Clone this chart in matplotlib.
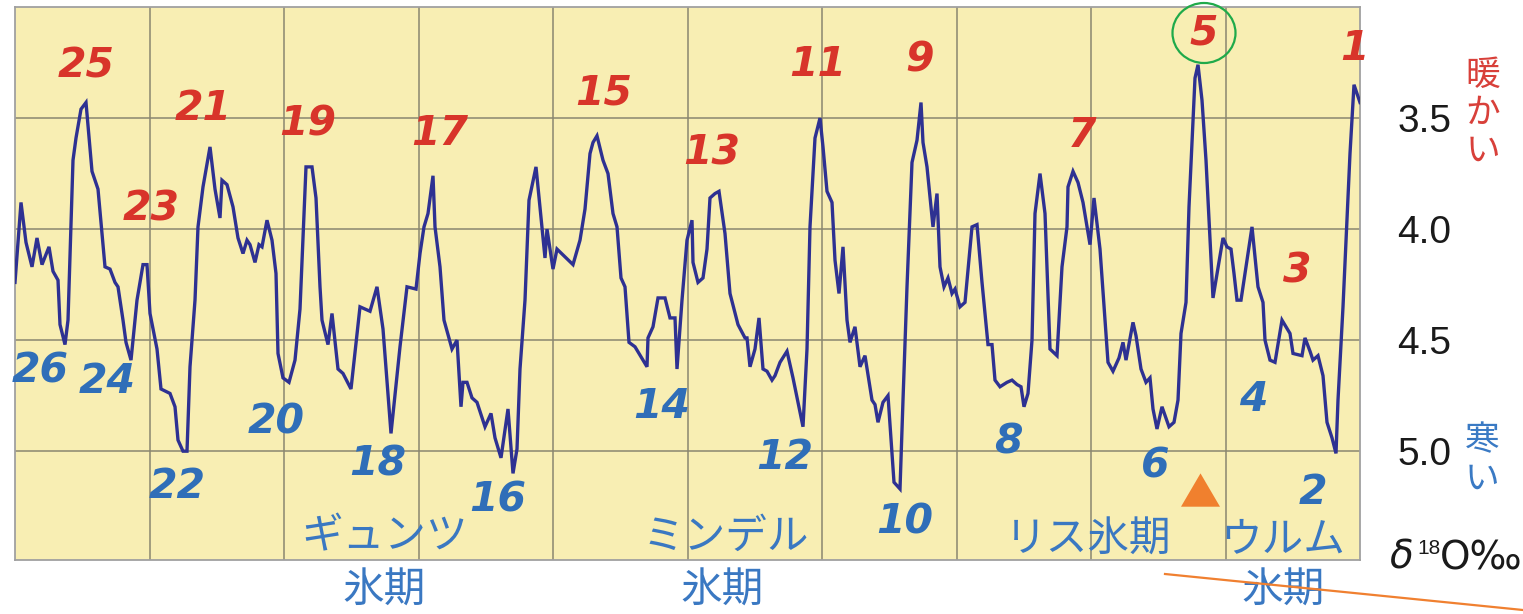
import matplotlib
matplotlib.use('Agg')
import matplotlib.pyplot as plt
from matplotlib.patches import Ellipse, Polygon
from matplotlib.lines import Line2D

# ---- data: position along the record (arbitrary units) and delta-18O (per mil)
position = [0, 6, 11, 17, 22, 27, 34, 38, 43, 45, 50, 53, 58, 61, 66, 71, 77, 83, 90, 95,
            100, 103, 108, 111, 116, 122, 128, 132, 135, 142, 146, 155, 160, 163, 168, 172, 175, 180, 183, 188,
            195, 200, 205, 207, 212, 218, 223, 228, 232, 235, 240, 244, 247, 252, 257, 261, 263, 268, 274, 280,
            285, 291, 297, 301, 305, 307, 313, 317, 323, 328, 336, 345, 355, 362, 368, 376, 385, 392, 401, 405,
            409, 413, 418, 420, 425, 429, 437, 442, 446, 448, 452, 457, 462, 470, 476, 480, 486, 493, 498, 502,
            505, 510, 514, 521, 525, 530, 532, 538, 542, 558, 565, 570, 575, 578, 582, 588, 593, 598, 602, 606,
            610, 614, 620, 632, 633, 638, 643, 650, 655, 660, 662, 667, 672, 677, 678, 683, 688, 692, 695, 700,
            704, 710, 715, 723, 730, 732, 735, 740, 744, 748, 752, 757, 760, 765, 772, 778, 788, 792, 795, 800,
            805, 808, 812, 817, 820, 824, 828, 832, 835, 840, 845, 850, 857, 860, 863, 868, 873, 879, 885, 888,
            892, 897, 902, 906, 908, 912, 918, 922, 925, 929, 933, 937, 940, 945, 950, 957, 962, 967, 973, 977,
            980, 985, 992, 997, 1002, 1006, 1009, 1013, 1017, 1020, 1025, 1030, 1035, 1042, 1047, 1052, 1053, 1058, 1063, 1068,
            1075, 1079, 1085, 1093, 1098, 1104, 1108, 1111, 1118, 1121, 1126, 1131, 1135, 1138, 1142, 1147, 1154, 1159, 1163, 1166,
            1171, 1174, 1180, 1183, 1187, 1191, 1193, 1198, 1208, 1212, 1216, 1219, 1222, 1226, 1237, 1243, 1248, 1250, 1255, 1260,
            1267, 1275, 1278, 1287, 1290, 1295, 1298, 1303, 1308, 1312, 1317, 1321, 1323, 1328, 1335, 1339, 1342, 1345]
d18o = [4.24, 3.88, 4.06, 4.17, 4.04, 4.16, 4.08, 4.19, 4.23, 4.43, 4.52, 4.41, 3.69, 3.59, 3.46, 3.43, 3.74, 3.82, 4.17, 4.18,
        4.24, 4.26, 4.41, 4.51, 4.59, 4.32, 4.16, 4.16, 4.38, 4.54, 4.72, 4.74, 4.80, 4.95, 5.00, 5.00, 4.62, 4.32, 3.99, 3.81,
        3.63, 3.82, 3.95, 3.78, 3.80, 3.90, 4.04, 4.11, 4.05, 4.07, 4.15, 4.07, 4.08, 3.96, 4.05, 4.20, 4.56, 4.67, 4.69, 4.59,
        4.36, 3.72, 3.72, 3.86, 4.26, 4.41, 4.52, 4.38, 4.63, 4.65, 4.72, 4.35, 4.37, 4.26, 4.45, 4.92, 4.53, 4.26, 4.27, 4.11,
        3.99, 3.93, 3.76, 3.99, 4.17, 4.41, 4.54, 4.50, 4.80, 4.69, 4.69, 4.76, 4.78, 4.89, 4.83, 4.94, 5.03, 4.81, 5.10, 4.99,
        4.63, 4.32, 3.87, 3.72, 3.90, 4.13, 4.00, 4.18, 4.09, 4.16, 4.05, 3.91, 3.66, 3.61, 3.58, 3.69, 3.75, 3.93, 3.99, 4.22,
        4.26, 4.51, 4.53, 4.62, 4.49, 4.44, 4.31, 4.31, 4.40, 4.40, 4.63, 4.32, 4.05, 3.96, 4.15, 4.24, 4.22, 4.09, 3.86, 3.84,
        3.83, 4.02, 4.29, 4.43, 4.49, 4.49, 4.62, 4.54, 4.40, 4.63, 4.64, 4.68, 4.66, 4.60, 4.55, 4.67, 4.89, 4.54, 3.99, 3.59,
        3.50, 3.63, 3.83, 3.88, 4.14, 4.29, 4.08, 4.41, 4.51, 4.44, 4.62, 4.57, 4.77, 4.79, 4.87, 4.78, 4.75, 5.14, 5.17, 4.77,
        4.26, 3.70, 3.60, 3.43, 3.61, 3.72, 3.99, 3.84, 4.17, 4.26, 4.22, 4.29, 4.27, 4.35, 4.33, 3.99, 3.98, 4.24, 4.52, 4.52,
        4.68, 4.71, 4.69, 4.68, 4.70, 4.71, 4.80, 4.74, 4.50, 3.93, 3.75, 3.93, 4.54, 4.57, 4.17, 3.99, 3.81, 3.74, 3.79, 3.88,
        4.07, 3.86, 4.09, 4.60, 4.64, 4.58, 4.51, 4.59, 4.42, 4.48, 4.63, 4.69, 4.67, 4.81, 4.90, 4.80, 4.89, 4.87, 4.77, 4.47,
        4.33, 3.90, 3.32, 3.26, 3.42, 3.69, 3.87, 4.31, 4.04, 4.08, 4.09, 4.20, 4.32, 4.32, 3.99, 4.26, 4.33, 4.50, 4.59, 4.60,
        4.41, 4.47, 4.56, 4.57, 4.49, 4.55, 4.59, 4.57, 4.66, 4.87, 4.94, 5.01, 4.77, 4.35, 3.66, 3.35, 3.39, 3.43]

warm_stages = ['25', '23', '21', '19', '17', '15', '13', '11', '9', '7', '5', '3', '1']
cold_stages = ['26', '24', '22', '20', '18', '16', '14', '12', '10', '8', '6', '4', '2']
y_ticks = [3.5, 4.0, 4.5, 5.0]
y_ticklabels = ['3.5', '4.0', '4.5', '5.0']
glacials = ['ギュンツ', 'ミンデル', 'リス氷期', 'ウルム']
glacial_suffix = '氷期'

# ---- layout (label placements in data coordinates)
warm_xy = [(71, 3.27), (136, 3.91), (188, 3.46), (293, 3.53), (425, 3.57), (589, 3.39), (697, 3.66),
           (803, 3.26), (905, 3.24), (1067, 3.58), (1189, 3.12), (1282, 4.19), (1339, 3.19)]
cold_xy = [(25, 4.64), (92, 4.69), (162, 5.16), (261, 4.87), (363, 5.06), (483, 5.22), (647, 4.80),
           (770, 5.03), (890, 5.32), (993, 4.96), (1140, 5.07), (1238, 4.77), (1298, 5.19)]
glacial_xy = [(370, 5.385), (711, 5.39), (1073, 5.40), (1268, 5.40)]
suffix_xy = [(369, 5.63), (707, 5.63), (1268, 5.63)]

W, H, DPI = 1523, 614, 100
fig = plt.figure(figsize=(W / DPI, H / DPI), dpi=DPI)
fig.patch.set_facecolor('white')
L, R, T, B = 15, 1360, 7, 560
ax = fig.add_axes([L / W, 1 - B / H, (R - L) / W, (B - T) / H])
ax.set_facecolor('#f8eeb3')
ax.set_xlim(0, 1345)
ax.set_ylim(5.49, 3.0)

ax.set_xticks([134.5 * i for i in range(1, 10)])
ax.set_yticks(y_ticks)
ax.set_yticklabels(y_ticklabels)
ax.yaxis.tick_right()
ax.tick_params(axis='x', length=0, labelbottom=False)
ax.tick_params(axis='y', length=0, pad=27, labelsize=28, labelcolor='#1a1a1a')
for lab in ax.get_yticklabels():
    lab.set_fontfamily('Liberation Sans')
ax.grid(True, color='#8a8670', linewidth=1.1)
ax.set_axisbelow(True)
for s in ax.spines.values():
    s.set_color('#a0a0a0')
    s.set_linewidth(1.3)

ax.plot(position, d18o, color='#2e3192', linewidth=2.4, solid_joinstyle='miter', zorder=3)

num_kw = dict(fontfamily='DejaVu Sans', fontweight='heavy', fontstyle='oblique', fontsize=29.5,
              ha='center', va='center', zorder=4, clip_on=False)
for lab, (x, y) in zip(warm_stages, warm_xy):
    ax.text(x, y, lab, color='#d8342a', **num_kw)
for lab, (x, y) in zip(cold_stages, cold_xy):
    ax.text(x, y, lab, color='#2f6eb8', **num_kw)

jp_kw = dict(fontfamily=['Noto Sans CJK JP', 'DejaVu Sans'], fontsize=30, color='#3a78c2',
             ha='center', va='center', clip_on=False, zorder=4)
for lab, (x, y) in zip(glacials, glacial_xy):
    ax.text(x, y, lab, **jp_kw)
for (x, y) in suffix_xy:
    ax.text(x, y, glacial_suffix, **jp_kw)

# orange triangle marker
ax.add_patch(Polygon([(1166, 5.25), (1205, 5.25), (1185.5, 5.10)], closed=True,
                     facecolor='#f0802e', edgecolor='none', zorder=4))

# green circle around stage 5
fig.add_artist(Ellipse((1204 / DPI, (H - 33) / DPI), 0.63, 0.60, transform=fig.dpi_scale_trans,
                       fill=False, edgecolor='#1faa4a', linewidth=1.6, clip_on=False))
# orange line
fig.add_artist(Line2D([1165 / DPI, 1523 / DPI], [(H - 574) / DPI, (H - 610) / DPI],
                      transform=fig.dpi_scale_trans, color='#f08030', linewidth=1.6))

# right-hand vertical labels
def ftext(px, py, s, **kw):
    fig.text(px / W, 1 - py / H, s, **kw)

side_kw = dict(fontfamily=['Noto Sans CJK JP', 'DejaVu Sans'], fontsize=25, ha='center', va='center')
for ch, py in zip('暖かい', [75, 113, 151]):
    ftext(1483, py, ch, color='#d8403a', **side_kw)
for ch, py in zip('寒い', [441, 479]):
    ftext(1482, py, ch, color='#3a7ac4', **side_kw)

ftext(1389, 557, r'$\delta$', fontsize=28, color='#1a1a1a', ha='left', va='center',
      fontfamily='DejaVu Sans')
ftext(1417, 548, '18', fontsize=15, color='#1a1a1a', ha='left', va='center', fontfamily='Liberation Sans')
ftext(1440, 558, 'O‰', fontsize=28, color='#1a1a1a', ha='left', va='center', fontfamily='DejaVu Sans')

fig.savefig('out.png', dpi=DPI, facecolor='white')
